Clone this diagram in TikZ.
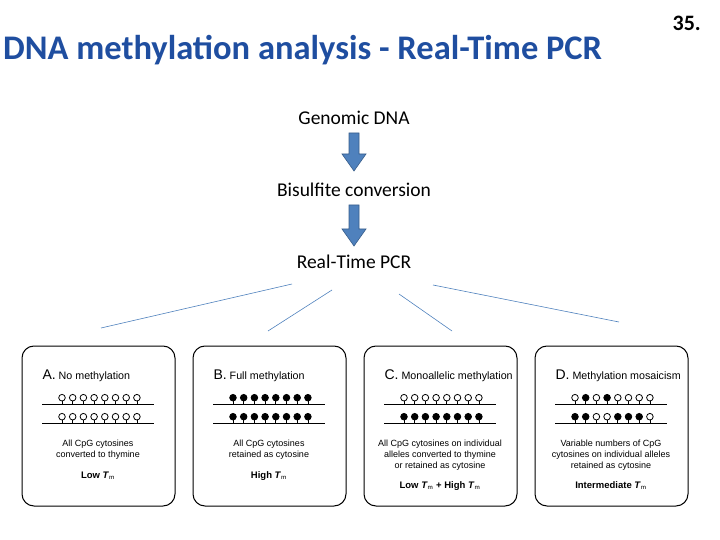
\documentclass[tikz,border=0pt]{standalone}
\usepackage{fontspec}
\setmainfont{Carlito}
\newfontfamily\arial{Liberation Sans}
\begin{document}
\begin{tikzpicture}[x=1pt,y=-1pt,
  box/.style={draw,line width=1pt,rounded corners=12pt},
  stp/.style={font=\fontsize{19.5}{22}\selectfont},
  lbl/.style={font=\arial\fontsize{9}{11}\selectfont,align=center},
  ttl/.style={font=\arial\fontsize{10.7}{12}\selectfont,anchor=west},
  tm/.style={font=\arial\bfseries\fontsize{9.5}{11}\selectfont},
  bar/.style={line width=0.9pt},
  arr/.style={fill={rgb,255:red,79;green,129;blue,189},draw={rgb,255:red,56;green,93;blue,138},line width=0.6pt},
  ray/.style={draw={rgb,255:red,79;green,129;blue,189},line width=0.6pt}]
\useasboundingbox (0,0) rectangle (720,540);
\node[font=\bfseries\fontsize{34.5}{38}\selectfont,text={rgb,255:red,31;green,78;blue,160},anchor=west,inner sep=0pt] (title) at (3,50) {DNA methylation analysis - Real-Time PCR};
\node[font=\bfseries\fontsize{22}{24}\selectfont,anchor=east,inner sep=0pt] (num) at (701,23) {35.};
\node[stp] (g) at (354,118) {Genomic DNA};
\node[stp] (b) at (354,190) {Bisulfite conversion};
\node[stp] (r) at (354,262) {Real-Time PCR};
\draw[arr] (349,133) -- (359,133) -- (359,154) -- (366,154) -- (354,171) -- (342,154) -- (349,154) -- cycle;
\draw[arr] (349,205) -- (359,205) -- (359,229) -- (366,229) -- (354,246) -- (342,229) -- (349,229) -- cycle;
\coordinate (e1) at (101,328); \coordinate (e2) at (268,331);
\coordinate (e3) at (452,331); \coordinate (e4) at (619,322);
\coordinate (s1) at (292,284); \coordinate (s2) at (332,290);
\coordinate (s3) at (399,294); \coordinate (s4) at (433,285);
\draw[ray] (s1) -- (e1); \draw[ray] (s2) -- (e2);
\draw[ray] (s3) -- (e3); \draw[ray] (s4) -- (e4);
\foreach \bx/\L/\T/\ra/\rb/\txt in {
  22/A./No methylation/{0,0,0,0,0,0,0,0}/{0,0,0,0,0,0,0,0}/{All CpG cytosines\\converted to thymine},
  193/B./Full methylation/{1,1,1,1,1,1,1,1}/{1,1,1,1,1,1,1,1}/{All CpG cytosines\\retained as cytosine},
  364/C./Monoallelic methylation/{0,0,0,0,0,0,0,0}/{1,1,1,1,1,1,1,1}/{All CpG cytosines on individual\\alleles converted to thymine\\or retained as cytosine},
  535/D./Methylation mosaicism/{0,1,0,1,0,0,0,0}/{1,1,0,0,1,1,1,0}/{Variable numbers of CpG\\cytosines on individual alleles\\retained as cytosine}}{
  \draw[box] (\bx,346) rectangle ++(153,160);
  \node[ttl] at (\bx+17,376) {{\fontsize{14}{15}\selectfont\L}\ \T};
  \draw[bar] (\bx+20,404) -- (\bx+132,404);
  \draw[bar] (\bx+20,423) -- (\bx+132,423);
  \foreach \f [count=\i from 0] in \ra {
      \pgfmathsetmacro{\xx}{\bx+40+\i*10.7}
      \draw[line width=0.8pt] (\xx,404) -- (\xx,401);
      \ifnum\f=1 \filldraw[line width=0.8pt] (\xx,397.7) circle (3.3);
      \else \filldraw[fill=white,line width=0.8pt] (\xx,397.7) circle (3.3); \fi
  }
  \foreach \f [count=\i from 0] in \rb {
      \pgfmathsetmacro{\xx}{\bx+40+\i*10.7}
      \draw[line width=0.8pt] (\xx,423) -- (\xx,420);
      \ifnum\f=1 \filldraw[line width=0.8pt] (\xx,416.7) circle (3.3);
      \else \filldraw[fill=white,line width=0.8pt] (\xx,416.7) circle (3.3); \fi
  }
  \node[lbl,anchor=north] at (\bx+76,436) {\txt};
}
\node[tm] (ta) at (98,476) {Low \textit{T}$_{\mathrm{m}}$};
\node[tm] (tb) at (269,476) {High \textit{T}$_{\mathrm{m}}$};
\node[tm] (tc) at (440,486) {Low \textit{T}$_{\mathrm{m}}$ + High \textit{T}$_{\mathrm{m}}$};
\node[tm] (td) at (611,486) {Intermediate \textit{T}$_{\mathrm{m}}$};
\end{tikzpicture}
\end{document}
